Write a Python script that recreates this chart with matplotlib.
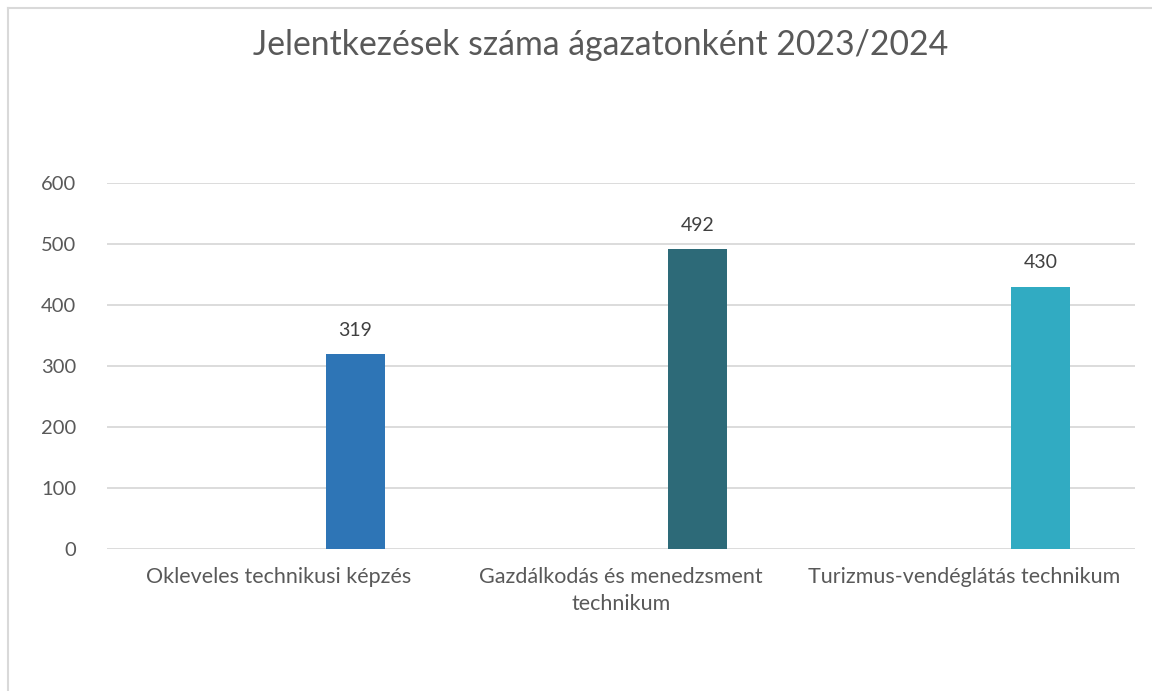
import numpy as np
import matplotlib.pyplot as plt
from matplotlib.lines import Line2D

# data
categories = ['Okleveles technikusi képzés',
              'Gazdálkodás és menedzsment\ntechnikum',
              'Turizmus-vendéglátás technikum']
values = [319, 492, 430]
bar_colors = ['#2E75B6', '#2D6A78', '#31ABC2']
title = 'Jelentkezések száma ágazatonként 2023/2024'

plt.rcParams['font.family'] = ['Lato', 'DejaVu Sans']

W, H = 1152, 691
fig = plt.figure(figsize=(W / 100, H / 100), dpi=100)
ax = fig.add_axes([107 / W, 1 - 549 / H, (1135 - 107) / W, (549 - 183) / H])

x = np.arange(len(categories))
bars = ax.bar(x + 0.224, values, width=0.172, color=bar_colors, zorder=3)

for b, v in zip(bars, values):
    ax.annotate(str(v), (b.get_x() + b.get_width() / 2, v), xytext=(0, 11),
                textcoords='offset points', ha='center', va='bottom',
                fontsize=14, color='#404040')

ax.set_xlim(-0.5, len(categories) - 0.5)
ax.set_ylim(0, 600)
ax.set_yticks(range(0, 601, 100))
ax.set_xticks(x)
ax.set_xticklabels(categories, fontsize=15.5, color='#595959', linespacing=1.45)
ax.tick_params(axis='y', length=0, pad=22, labelsize=14.5, labelcolor='#595959')
ax.tick_params(axis='x', length=0, pad=13)
ax.grid(axis='y', color='#D9D9D9', linewidth=1.3, zorder=0)
for s in ax.spines.values():
    s.set_visible(False)

fig.text(601 / W, 1 - 45 / H, title, ha='center', va='center',
         fontsize=24.3, color='#595959')

# chart border (left and top visible)
fig.add_artist(Line2D([8 / W, 8 / W], [0, 1 - 8 / H], transform=fig.transFigure,
                      color='#D9D9D9', linewidth=1.5))
fig.add_artist(Line2D([8 / W, 1], [1 - 8 / H, 1 - 8 / H], transform=fig.transFigure,
                      color='#D9D9D9', linewidth=1.5))

fig.savefig('out.png', dpi=100)
